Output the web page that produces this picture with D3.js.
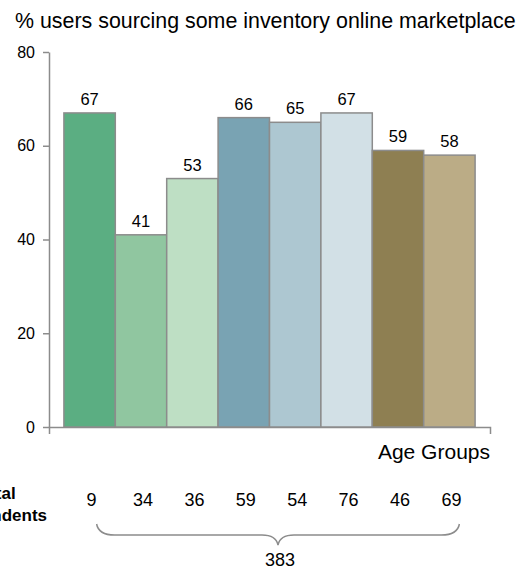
<!DOCTYPE html>
<html lang="en">
<head>
  <meta charset="UTF-8">
  <title>Online marketplace sourcing by age group</title>
  <script src="https://d3js.org/d3.v7.min.js"></script>
  <style>
    body {
      margin: 0;
      background: #fff;
      font-family: "Liberation Sans", Arial, sans-serif;
    }
    .axis path, .axis line {
      stroke: #8c8c8c;
      stroke-width: 1.5px;
    }
    .axis text {
      font-family: "Liberation Sans", Arial, sans-serif;
      font-size: 16px;
      fill: #000;
    }
  </style>
</head>
<body>
  <svg width="526" height="570"></svg>
  <script>
    const groups = ["g1", "g2", "g3", "g4", "g5", "g6", "g7", "g8"];
    const values = [67, 41, 53, 66, 65, 67, 59, 58];
    const respondents = [9, 34, 36, 59, 54, 76, 46, 69];
    const total = 383;
    const colors = ["#5bae82", "#90c6a0", "#bedfc4", "#79a3b3", "#adc7d1", "#d2e0e6", "#8e7f52", "#bbac86"];
    const yTicks = [0, 20, 40, 60, 80];

    const svg = d3.select("svg");

    const x = d3.scaleBand()
      .domain(groups)
      .range([49, 490])
      .paddingInner(0)
      .paddingOuter(0.29);

    const y = d3.scaleLinear()
      .domain([0, 80])
      .range([427, 52]);

    // title
    svg.append("text")
      .attr("x", 15)
      .attr("y", 28)
      .attr("font-size", 21.4)
      .text("% users sourcing some inventory online marketplace");

    // y axis
    svg.append("g")
      .attr("class", "axis")
      .attr("transform", "translate(49,0)")
      .call(d3.axisLeft(y).tickValues(yTicks).tickSize(6).tickSizeOuter(0).tickPadding(8));

    // x axis (just the baseline with end ticks)
    svg.append("g")
      .attr("class", "axis")
      .attr("transform", "translate(0,427)")
      .call(d3.axisBottom(x).tickValues([]).tickSizeOuter(7));

    // bars
    svg.selectAll(".bar")
      .data(values)
      .enter()
      .append("rect")
      .attr("class", "bar")
      .attr("x", (d, i) => x(groups[i]))
      .attr("y", d => y(d))
      .attr("width", x.bandwidth())
      .attr("height", d => y(0) - y(d))
      .attr("fill", (d, i) => colors[i])
      .attr("stroke", "#8c8c8c")
      .attr("stroke-width", 1.5);

    // value labels
    svg.selectAll(".val")
      .data(values)
      .enter()
      .append("text")
      .attr("class", "val")
      .attr("x", (d, i) => x(groups[i]) + x.bandwidth() / 2)
      .attr("y", d => y(d) - 8)
      .attr("text-anchor", "middle")
      .attr("font-size", 16.5)
      .text(d => d);

    svg.append("text")
      .attr("x", 490)
      .attr("y", 459)
      .attr("text-anchor", "end")
      .attr("font-size", 21)
      .text("Age Groups");

    // respondents row (left label runs off the edge, as in the original)
    const lbl = svg.append("text")
      .attr("text-anchor", "middle")
      .attr("font-size", 17)
      .attr("font-weight", "bold");
    lbl.append("tspan").attr("x", -4).attr("y", 499).text("Total");
    lbl.append("tspan").attr("x", -4).attr("y", 521).text("respondents");

    svg.selectAll(".cnt")
      .data(respondents)
      .enter()
      .append("text")
      .attr("class", "cnt")
      .attr("x", (d, i) => x(groups[i]) + x.bandwidth() / 2 + 2)
      .attr("y", 506)
      .attr("text-anchor", "middle")
      .attr("font-size", 18)
      .text(d => d);

    // brace under the counts
    const bx0 = x(groups[0]) + x.bandwidth() / 2 + 7;
    const bx1 = x(groups[groups.length - 1]) + x.bandwidth() / 2 + 10;
    const bm = (bx0 + bx1) / 2;
    const brace = d3.path();
    brace.moveTo(bx0, 524);
    brace.quadraticCurveTo(bx0 + 2, 535, bx0 + 18, 535);
    brace.lineTo(bm - 16, 535);
    brace.quadraticCurveTo(bm - 2, 535, bm, 545);
    brace.quadraticCurveTo(bm + 2, 535, bm + 16, 535);
    brace.lineTo(bx1 - 18, 535);
    brace.quadraticCurveTo(bx1 - 2, 535, bx1, 524);
    svg.append("path")
      .attr("d", brace.toString())
      .attr("fill", "none")
      .attr("stroke", "#8c8c8c")
      .attr("stroke-width", 1.5);

    svg.append("text")
      .attr("x", bm + 2)
      .attr("y", 566)
      .attr("text-anchor", "middle")
      .attr("font-size", 18)
      .text(total);
  </script>
</body>
</html>
